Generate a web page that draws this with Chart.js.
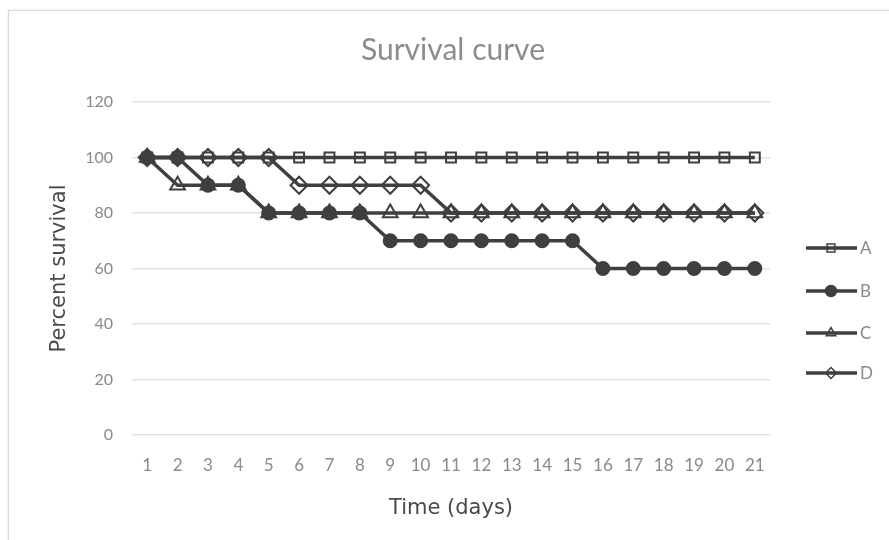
<!DOCTYPE html>
<html>
<head>
<meta charset="utf-8">
<script src="https://cdn.jsdelivr.net/npm/chart.js@4"></script>
<style>
  html, body { margin: 0; padding: 0; background: #fff; overflow: hidden; }
  #frame { position: absolute; left: 8px; top: 10px; width: 900px; height: 560px; border: 1px solid #d9d9d9; box-shadow: 0 0 3px #e4e4e4; }
  #wrap { position: absolute; left: 0; top: 0; width: 889px; height: 540px; }
</style>
</head>
<body>
<div id="frame"></div>
<div id="wrap"><canvas id="chart"></canvas></div>
<script>
// Survival curve - percent survival per day
const days = ['1','2','3','4','5','6','7','8','9','10','11','12','13','14','15','16','17','18','19','20','21'];
const seriesA = [100,100,100,100,100,100,100,100,100,100,100,100,100,100,100,100,100,100,100,100,100];
const seriesB = [100,100,90,90,80,80,80,80,70,70,70,70,70,70,70,60,60,60,60,60,60];
const seriesC = [100,90,90,90,80,80,80,80,80,80,80,80,80,80,80,80,80,80,80,80,80];
const seriesD = [100,100,100,100,100,90,90,90,90,90,80,80,80,80,80,80,80,80,80,80,80];
const yTicks = [0,20,40,60,80,100,120];

const ink = '#3f3f3f';
const grey = '#8a8a8a';

function makeSet(label, data, style, radius, fill, order) {
  return {
    label: label,
    data: data,
    yAxisID: 'y',
    borderColor: ink,
    borderWidth: 3.5,
    pointStyle: style,
    pointRadius: radius,
    pointHoverRadius: radius,
    pointBorderColor: ink,
    pointBorderWidth: 2,
    pointBackgroundColor: fill,
    tension: 0,
    fill: false,
    order: order
  };
}

// legend drawn by hand so each entry shows a line with its marker
const sideLegend = {
  id: 'sideLegend',
  afterDraw(chart) {
    const ctx = chart.ctx;
    const rows = [248, 291, 333, 373];
    chart.data.datasets.forEach((ds, i) => {
      const y = rows[i];
      ctx.save();
      ctx.strokeStyle = ink;
      ctx.lineWidth = 3.5;
      ctx.beginPath();
      ctx.moveTo(806, y);
      ctx.lineTo(857, y);
      ctx.stroke();
      ctx.lineWidth = 1.5;
      ctx.fillStyle = ds.pointBackgroundColor;
      Chart.helpers.drawPoint(ctx, { pointStyle: ds.pointStyle, radius: 5.5, rotation: 0, borderWidth: 1.5 }, 831, y);
      ctx.fillStyle = grey;
      ctx.font = '17px Lato';
      ctx.textBaseline = 'middle';
      ctx.textAlign = 'left';
      ctx.fillText(ds.label, 860, y + 1);
      ctx.restore();
    });
  }
};

new Chart(document.getElementById('chart'), {
  type: 'line',
  data: {
    labels: days,
    datasets: [
      makeSet('A', seriesA, 'rect', 7, 'rgba(0,0,0,0)', 4),
      makeSet('B', seriesB, 'circle', 6.5, ink, 3),
      makeSet('C', seriesC, 'triangle', 8.5, 'rgba(0,0,0,0)', 2),
      makeSet('D', seriesD, 'rectRot', 8.5, 'rgba(0,0,0,0)', 1)
    ]
  },
  options: {
    responsive: true,
    maintainAspectRatio: false,
    animation: false,
    layout: { padding: { left: 17, right: 0, top: 0, bottom: 0 } },
    plugins: {
      legend: { display: false },
      tooltip: { enabled: false },
      title: {
        display: true,
        text: 'Survival curve',
        color: '#8c8c8c',
        font: { family: 'Lato', size: 30, weight: 'normal' },
        padding: { top: 32, bottom: 34 }
      }
    },
    scales: {
      x: {
        offset: true,
        grid: { display: false, drawTicks: false },
        border: { display: false },
        ticks: { color: grey, font: { family: 'Lato', size: 17 }, padding: 20, maxRotation: 0, autoSkip: false },
        title: { display: true, text: 'Time (days)', color: '#4a4a4a', font: { family: 'DejaVu Sans', size: 21 }, padding: { top: 0, bottom: 19 } },
        afterFit(scale) { scale.height = 105; }
      },
      y: {
        min: 0,
        max: 120,
        afterBuildTicks(scale) { scale.ticks = yTicks.map(v => ({ value: v })); },
        grid: { color: '#e3e3e3', lineWidth: 1.5, drawTicks: false },
        border: { display: false },
        ticks: { color: grey, font: { family: 'Lato', size: 16 }, padding: 19 },
        title: { display: true, text: 'Percent survival', color: '#4a4a4a', font: { family: 'DejaVu Sans', size: 21 }, padding: { top: 30, bottom: 0 } },
        afterFit(scale) { scale.width = 115; }
      },
      side: {
        position: 'right',
        grid: { display: false, drawTicks: false },
        border: { display: false },
        ticks: { display: false },
        afterFit(scale) { scale.width = 119; }
      }
    }
  },
  plugins: [sideLegend]
});
</script>
</body>
</html>
